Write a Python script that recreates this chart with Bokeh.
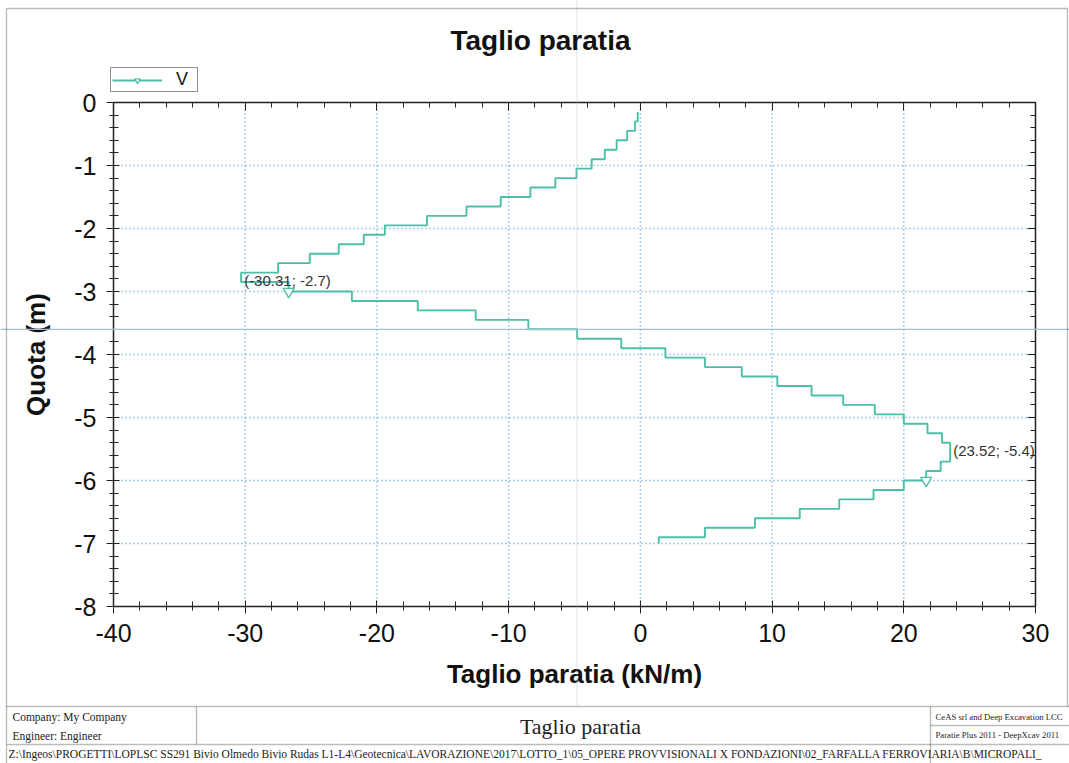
from bokeh.plotting import figure
from bokeh.models import (LinearAxis, SingleIntervalTicker, Label, PolyAnnotation, Span,
                          Legend, LegendItem, CustomJSTickFormatter, Range1d)
from bokeh.core.properties import value
from bokeh.embed import file_html
from bokeh.resources import INLINE

# ---------------- data ----------------
# top of each depth interval (m) and the shear value on it (kN/m)
quota_top = [-0.15, -0.30, -0.45, -0.60, -0.75, -0.90, -1.05, -1.20, -1.35, -1.50,
             -1.65, -1.80, -1.95, -2.10, -2.25, -2.40, -2.55, -2.70, -2.85, -3.00,
             -3.15, -3.30, -3.45, -3.60, -3.75, -3.90, -4.05, -4.20, -4.35, -4.50,
             -4.65, -4.80, -4.95, -5.10, -5.25, -5.40, -5.55, -5.70, -5.85, -6.00,
             -6.15, -6.30, -6.45, -6.60, -6.75, -6.90]
quota_end = -7.0
taglio = [-0.2, -0.4, -1.0, -1.8, -2.7, -3.7, -4.85, -6.45, -8.35, -10.6,
          -13.2, -16.2, -19.4, -21.0, -22.9, -25.1, -27.5, -30.31, -26.7, -21.9,
          -16.9, -12.5, -8.5, -4.8, -1.45, 1.9, 4.9, 7.7, 10.4, 13.0,
          15.4, 17.8, 20.0, 21.8, 22.9, 23.52, 23.52, 22.8, 21.7, 20.0,
          17.7, 15.1, 12.1, 8.7, 4.9, 1.4]
marker_quota = [-3.0, -6.0]          # depths where the series marker is shown
ann_x = [-30.31, 23.52]
ann_y = [-2.7, -5.4]
ann_text = ["(-30.31; -2.7)", "(23.52; -5.4)"]
cursor_x, cursor_y = -4.8, -3.6
x_lim = (-40, 30)
y_lim = (-8, 0)
x_grid = [-30, -20, -10, 0, 10, 20]
y_grid = [-1, -2, -3, -4, -5, -6, -7]

TEAL = "#4cbfa8"
AX = "#222222"
GRID = "#5c9fd8"
CURSOR = "#a3bdd1"
SANS = "Liberation Sans"
SERIF = "Liberation Serif"

# ---------------- layout (pixels of the page) ----------------
W, H = 1069, 763
FL, FR, FT, FB = 113, 1035, 102, 606   # where the data box sits

kx = (x_lim[1] - x_lim[0]) / (FR - FL)
ky = (y_lim[1] - y_lim[0]) / (FB - FT)
x_range = Range1d(x_lim[0] - FL * kx, x_lim[1] + (W - FR) * kx)
y_range = Range1d(y_lim[0] - (H - FB) * ky, y_lim[1] + FT * ky)


def sx(X):
    return X


def sy(Y):
    return H - Y


p = figure(width=W, height=H, x_range=x_range, y_range=y_range,
           output_backend="svg", toolbar_location=None, title=None,
           min_border=0, min_border_left=0, min_border_right=0,
           min_border_top=0, min_border_bottom=0)
p.background_fill_color = "white"
p.border_fill_color = "white"
p.outline_line_color = None
p.xgrid.visible = False
p.ygrid.visible = False

xt = SingleIntervalTicker(interval=10, num_minor_ticks=5)
yt = SingleIntervalTicker(interval=1, num_minor_ticks=5)
fmt = CustomJSTickFormatter(code="return tick.toFixed(0)")

# grid (dotted) inside the data box
p.segment(x0=x_grid, y0=[y_lim[0]] * len(x_grid), x1=x_grid, y1=[y_lim[1]] * len(x_grid),
          line_color=GRID, line_dash="1 3", line_width=1.5)
p.segment(x0=[x_lim[0]] * len(y_grid), y0=y_grid, x1=[x_lim[1]] * len(y_grid), y1=y_grid,
          line_color=GRID, line_dash="1 3", line_width=1.5)

# cursor lines
p.add_layout(PolyAnnotation(xs=[cursor_x, cursor_x], ys=[sy(0), sy(705)],
                            xs_units="data", ys_units="screen",
                            line_color=CURSOR, line_width=1.3, fill_alpha=0))
p.add_layout(Span(location=cursor_y, dimension="width", line_color=CURSOR,
                  line_width=1.3))

xa = p.xaxis[0]
xa.ticker = xt
xa.formatter = fmt
xa.axis_label = "Taglio paratia (kN/m)"
ya = p.yaxis[0]
ya.ticker = yt
ya.formatter = fmt
ya.axis_label = "Quota (m)"
xa.fixed_location = y_lim[0]
xa.bounds = x_lim
ya.fixed_location = x_lim[0]
ya.bounds = y_lim
for ax in (xa, ya):
    ax.axis_line_color = AX
    ax.axis_line_width = 1.5
    ax.major_tick_line_color = AX
    ax.minor_tick_line_color = AX
    ax.major_tick_in = 6
    ax.major_tick_out = 7
    ax.minor_tick_in = 5
    ax.minor_tick_out = 4
    ax.major_label_text_font = SANS
    ax.major_label_text_font_size = "25px"
    ax.major_label_text_color = "#111111"
    ax.axis_label_text_font = SANS
    ax.axis_label_text_font_size = "26px"
    ax.axis_label_text_font_style = "bold"
    ax.axis_label_text_color = "#111111"
xa.major_label_standoff = 10
xa.axis_label_standoff = 14
ya.major_label_standoff = 10
ya.axis_label_standoff = 20

for loc, tk, fl, bd in (("above", xt, y_lim[1], x_lim), ("right", yt, x_lim[1], y_lim)):
    a = LinearAxis(ticker=tk, formatter=CustomJSTickFormatter(code="return ''"),
                   fixed_location=fl, bounds=bd,
                   axis_line_color=AX, axis_line_width=1.5,
                   major_tick_line_color=AX, minor_tick_line_color=AX,
                   major_tick_in=8, major_tick_out=0, minor_tick_in=5, minor_tick_out=0)
    p.add_layout(a, loc)

# step curve built from the interval data
bottoms = quota_top[1:] + [quota_end]
xs, ys = [], []
for v, t, b in zip(taglio, quota_top, bottoms):
    xs += [v, v]
    ys += [t, b]
line_r = p.line(xs, ys, line_color=TEAL, line_width=1.9)

sel = [i for i, b in enumerate(bottoms) if any(abs(b - m) < 1e-6 for m in marker_quota)]
mark_r = p.scatter([taglio[i] for i in sel], [bottoms[i] for i in sel],
                   marker="inverted_triangle", size=11, line_color=TEAL,
                   line_width=1.3, fill_color="white")

p.text(x=ann_x, y=ann_y, text=ann_text, x_offset=3, y_offset=8,
       text_baseline="middle", text_align="left",
       text_font=value(SANS), text_font_size="15px", text_color="#333333")

legend = Legend(items=[LegendItem(label="V", renderers=[line_r, mark_r])],
                location=(sx(110), sy(92)), orientation="vertical",
                border_line_color=AX, border_line_width=1.2,
                background_fill_color="white", background_fill_alpha=1,
                label_text_font=SANS, label_text_font_size="18px",
                label_text_color="#111111",
                padding=1, margin=0, spacing=0, glyph_width=50, glyph_height=14,
                label_height=14, label_standoff=14)
p.add_layout(legend, "center")

# title
p.add_layout(Label(x=sx(540), y=sy(40), x_units="screen", y_units="screen",
                   text="Taglio paratia", text_align="center", text_baseline="middle",
                   text_font=SANS, text_font_size="28px", text_font_style="bold",
                   text_color="#111111"))


# outer frame and footer table
def seg(X0, Y0, X1, Y1, w=1.4):
    p.add_layout(PolyAnnotation(xs=[sx(X0), sx(X1)], ys=[sy(Y0), sy(Y1)],
                                xs_units="screen", ys_units="screen",
                                line_color=AX, line_width=w, fill_alpha=0))


seg(6, 8, 1067, 8)
seg(6, 8, 6, 763)
seg(1067, 8, 1067, 706)
seg(6, 706, W, 706)
seg(6, 744, W, 744)
seg(196, 706, 196, 744)
seg(930, 706, 930, 763)
seg(930, 725, W, 725)

footer = [
    ("Company: My Company", 12, 716, "11.5px", "left"),
    ("Engineer: Engineer", 12, 735, "11.5px", "left"),
    ("Taglio paratia", 580, 726, "22px", "center"),
    ("CeAS srl and Deep Excavation LCC", 935, 716, "8.7px", "left"),
    ("Paratie Plus 2011 - DeepXcav 2011", 935, 734, "8.7px", "left"),
    ("Z:\\Ingeos\\PROGETTI\\LOPLSC SS291 Bivio Olmedo Bivio Rudas L1-L4\\Geotecnica\\LAVORAZIONE\\2017\\LOTTO_1\\05_OPERE PROVVISIONALI X FONDAZIONI\\02_FARFALLA FERROVIARIA\\B\\MICROPALI_",
     8, 753, "11.5px", "left"),
]
for txt, X, Y, fs, al in footer:
    p.add_layout(Label(x=sx(X), y=sy(Y), x_units="screen", y_units="screen",
                       text=txt, text_align=al, text_baseline="middle",
                       text_font=SERIF, text_font_size=fs, text_color="#222222"))

open("out.html", "w").write(file_html(p, INLINE))
